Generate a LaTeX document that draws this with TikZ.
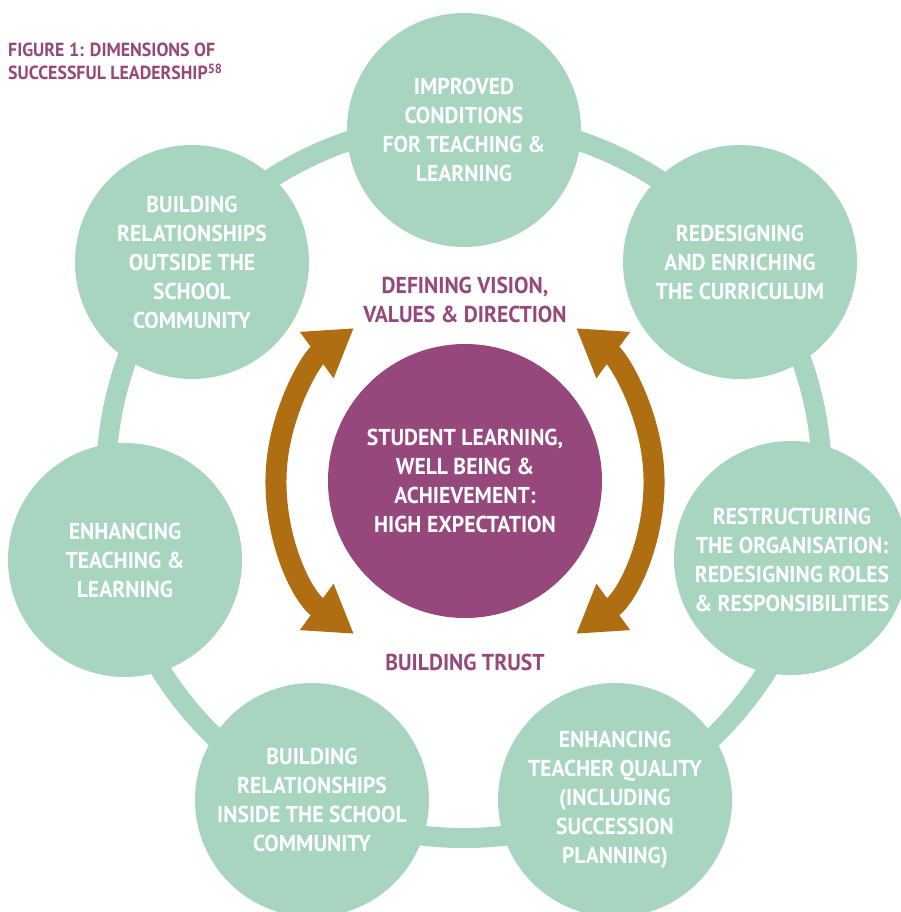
\documentclass[tikz,border=0pt]{standalone}
\usepackage{fontspec}
\setmainfont{PT Sans}[FakeStretch=0.94]
\definecolor{mint}{HTML}{A8D5BF}
\definecolor{plum}{HTML}{96477B}
\definecolor{ochre}{HTML}{AE6E11}
\usetikzlibrary{arrows.meta}
\tikzset{
  dimension/.style={circle, fill=mint, minimum size=234pt, inner sep=0pt, text=white, align=center,
    font=\fontsize{23}{29}\selectfont\bfseries},
  purpletext/.style={text=plum, align=center, font=\fontsize{23}{29}\selectfont\bfseries},
  trust arrow/.style={ochre, line width=21pt, {Triangle[width=54pt,length=46pt]}-{Triangle[width=54pt,length=46pt]}}
}

\begin{document}
\begin{tikzpicture}[x=1pt,y=-1pt]
\useasboundingbox (0,0) rectangle (900,912);
% ring behind the circles
\draw[mint, line width=20pt] (464,480) circle[radius=358];
\node[dimension] (conditions) at (464,130) {IMPROVED\\CONDITIONS\\FOR TEACHING \&\\LEARNING};
\node[dimension] (curriculum) at (740,262) {REDESIGNING\\AND ENRICHING\\THE CURRICULUM};
\node[dimension] (organisation) at (791,558) {};
\node[purpletext, text=white] at (792,560) {RESTRUCTURING\\THE ORGANISATION:\\REDESIGNING ROLES\\\& RESPONSIBILITIES};
\node[dimension] (quality) at (615,800) {ENHANCING\\TEACHER QUALITY\\(INCLUDING\\SUCCESSION\\PLANNING)};
\node[dimension] (inside) at (312,800) {BUILDING\\RELATIONSHIPS\\INSIDE THE SCHOOL\\COMMUNITY};
\node[dimension] (teaching) at (125,560) {ENHANCING\\TEACHING \&\\LEARNING};
\node[dimension] (outside) at (192,262) {BUILDING\\RELATIONSHIPS\\OUTSIDE THE\\SCHOOL\\COMMUNITY};
% centre
\node[circle, fill=plum, minimum size=274pt, inner sep=0pt, text=white, align=center,
  font=\fontsize{23}{29}\selectfont\bfseries] (student) at (465,481)
  {STUDENT LEARNING,\\WELL BEING \&\\ACHIEVEMENT:\\HIGH EXPECTATION};
\node[purpletext] (vision) at (465,300) {DEFINING VISION,\\VALUES \& DIRECTION};
\node[purpletext] (trust) at (465,662) {BUILDING TRUST};
\draw[trust arrow] (student.center) ++(126:189) arc[start angle=126, end angle=234, radius=189];
\draw[trust arrow] (student.center) ++(54:189) arc[start angle=54, end angle=-54, radius=189];
% title
\node[anchor=north west, text=plum, align=left, inner sep=0pt,
  font=\fontsize{19}{23}\selectfont\bfseries] (title) at (8,43)
  {FIGURE 1: DIMENSIONS OF\\SUCCESSFUL LEADERSHIP\textsuperscript{58}};
\end{tikzpicture}
\end{document}
